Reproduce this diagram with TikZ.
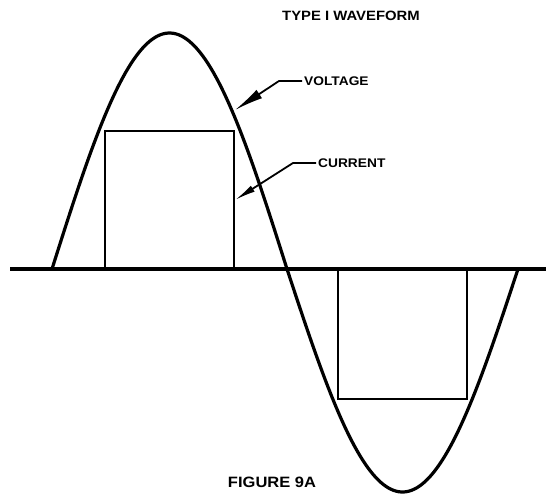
\documentclass[tikz,border=0pt]{standalone}
\usepackage{fontspec}
\newfontfamily\plotfont[FakeStretch=1.1]{Liberation Sans}
\usetikzlibrary{arrows.meta}

\begin{document}
\begin{tikzpicture}[x=1pt, y=-1pt,
    wave/.style={line width=3.2pt},
    box/.style={line width=2.6pt},
    lead/.style={line width=1.8pt},
    lbl/.style={font=\plotfont\bfseries\fontsize{12.5}{14}\selectfont, inner sep=2pt, anchor=west}]
    \useasboundingbox (0,0) rectangle (546,493);
    \draw[wave] (10,269) -- (546,269);
    \draw[wave, samples=90] plot[domain=52:287] (\x, {269-236*sin((\x-52)/235*180)})
        -- plot[domain=287:518] (\x, {269+223*sin((\x-287)/231*180)});
    \draw[box] (105,269) |- (234,131) -- (234,269);
    \draw[box] (338,269) |- (467,399) -- (467,269);
    \node[lbl, anchor=center, font=\plotfont\bfseries\fontsize{13.5}{15}\selectfont] (title) at (351,16) {TYPE I WAVEFORM};
    \node[lbl] (volt) at (302,81) {VOLTAGE};
    \node[lbl] (curr) at (316,163) {CURRENT};
    \node[lbl, anchor=center, font=\plotfont\bfseries\fontsize{15}{17}\selectfont] (fig) at (272,482) {FIGURE 9A};
    \coordinate (vbend) at (279,81);
    \coordinate (vtip) at (235,110);
    \coordinate (cbend) at (293,163);
    \coordinate (ctip) at (235,200);
    \draw[lead, -{Latex[length=29pt, width=10pt]}] (volt.west) -- (vbend) -- (vtip);
    \draw[lead, -{Latex[length=21pt, width=7pt]}] (curr.west) -- (cbend) -- (ctip);
\end{tikzpicture}
\end{document}
